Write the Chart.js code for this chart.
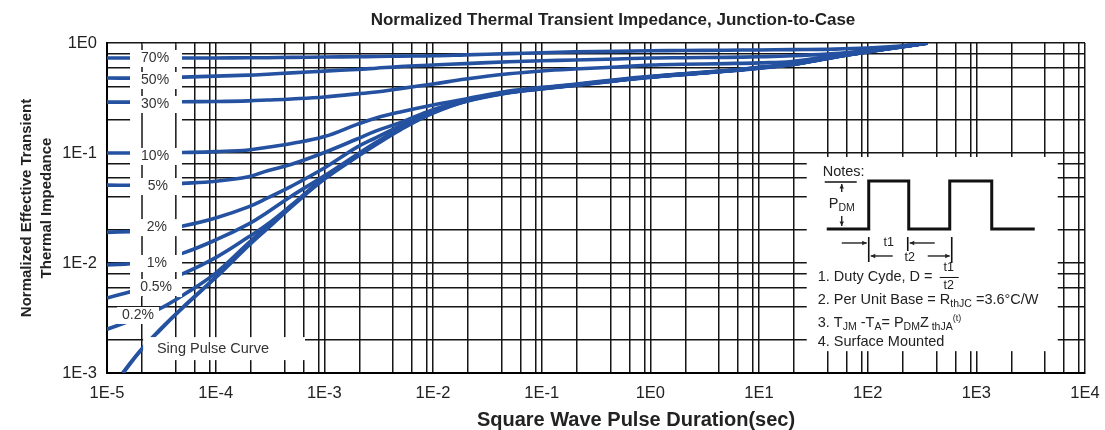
<!DOCTYPE html>
<html>
<head>
<meta charset="utf-8">
<title>Normalized Thermal Transient Impedance</title>
<script src="https://cdn.jsdelivr.net/npm/chart.js@4.4.1/dist/chart.umd.min.js"></script>
<style>
  html, body { margin: 0; padding: 0; background: #fff; }
</style>
</head>
<body>
<canvas id="zth" width="1105" height="430"></canvas>
<script>
    // pulse duration (sec) where the duty-cycle curves were read
    const tDuty = [1e-5, 2e-5, 3e-5, 5e-5, 1e-4, 2e-4, 3e-4, 5e-4, 1e-3, 2e-3, 3e-3, 5e-3, 1e-2, 2e-2, 5e-2, 0.1, 0.2, 0.5, 1, 2, 5, 10, 20, 50, 100, 200, 355];

    const z70 = [0.73, 0.73, 0.73, 0.73, 0.73, 0.735, 0.735, 0.74, 0.745, 0.75, 0.755, 0.76, 0.765, 0.78, 0.80, 0.815, 0.83, 0.84, 0.85, 0.855, 0.86, 0.865, 0.87, 0.88, 0.90, 0.94, 1.0];
    const z50 = [0.48, 0.48, 0.485, 0.49, 0.50, 0.51, 0.52, 0.535, 0.555, 0.575, 0.59, 0.61, 0.63, 0.65, 0.675, 0.69, 0.70, 0.715, 0.73, 0.735, 0.74, 0.75, 0.765, 0.80, 0.86, 0.93, 1.0];
    const z30 = [0.29, 0.29, 0.29, 0.292, 0.294, 0.298, 0.303, 0.31, 0.323, 0.345, 0.358, 0.385, 0.424, 0.47, 0.525, 0.557, 0.58, 0.605, 0.63, 0.64, 0.65, 0.66, 0.68, 0.77, 0.845, 0.925, 1.0];
    const z10 = [0.1, 0.1, 0.1, 0.101, 0.103, 0.1065, 0.113, 0.122, 0.141, 0.182, 0.208, 0.236, 0.273, 0.31, 0.365, 0.395, 0.422, 0.465, 0.497, 0.525, 0.563, 0.6, 0.643, 0.752, 0.838, 0.925, 1.0];
    const z5 = [0.051, 0.051, 0.052, 0.053, 0.0553, 0.0608, 0.069, 0.079, 0.101, 0.134, 0.159, 0.189, 0.248, 0.303, 0.36, 0.39, 0.418, 0.461, 0.494, 0.522, 0.56, 0.598, 0.641, 0.75, 0.836, 0.923, 1.0];
    const z2 = [0.019, 0.0195, 0.020, 0.0217, 0.0257, 0.0324, 0.039, 0.05, 0.073, 0.113, 0.138, 0.176, 0.24, 0.3, 0.358, 0.388, 0.416, 0.459, 0.492, 0.52, 0.558, 0.596, 0.639, 0.749, 0.835, 0.922, 1.0];
    const z1 = [0.0096, 0.0100, 0.0108, 0.0123, 0.0162, 0.0226, 0.029, 0.0407, 0.062, 0.097, 0.125, 0.168, 0.236, 0.298, 0.356, 0.386, 0.414, 0.458, 0.491, 0.519, 0.557, 0.595, 0.638, 0.748, 0.834, 0.921, 1.0];
    const z05 = [0.0048, 0.0058, 0.0066, 0.0080, 0.0112, 0.0172, 0.0225, 0.0337, 0.06, 0.095, 0.123, 0.166, 0.234, 0.297, 0.355, 0.385, 0.413, 0.457, 0.49, 0.518, 0.556, 0.594, 0.637, 0.747, 0.833, 0.92, 1.0];
    const z02 = [0.0025, 0.0032, 0.0038, 0.0051, 0.0081, 0.0152, 0.0215, 0.0332, 0.059, 0.094, 0.122, 0.165, 0.233, 0.296, 0.355, 0.384, 0.413, 0.457, 0.49, 0.518, 0.556, 0.594, 0.637, 0.747, 0.833, 0.92, 1.0];

    // single pulse curve starts where it enters the 1E-3 floor
    const tSingle = [1.4e-5, 2e-5, 3e-5, 5e-5, 1e-4, 2e-4, 3e-4, 5e-4, 1e-3, 2e-3, 3e-3, 5e-3, 1e-2, 2e-2, 5e-2, 0.1, 0.2, 0.5, 1, 2, 5, 10, 20, 50, 100, 200, 355];
    const zSingle = [0.001, 0.00157, 0.00241, 0.00395, 0.0074, 0.0144, 0.0207, 0.0327, 0.058, 0.0927, 0.12, 0.163, 0.231, 0.295, 0.354, 0.383, 0.412, 0.456, 0.489, 0.517, 0.555, 0.593, 0.636, 0.746, 0.832, 0.92, 1.0];

    // duty labels and where they sit (t, Z)
    const dutyNames = ['70%', '50%', '30%', '10%', '5%', '2%', '1%', '0.5%', '0.2%'];
    const labelT = [2.77e-5, 2.77e-5, 2.77e-5, 2.77e-5, 2.94e-5, 2.88e-5, 2.88e-5, 2.83e-5, 1.93e-5];
    const labelZ = [0.731, 0.461, 0.279, 0.094, 0.0501, 0.0212, 0.01, 0.00605, 0.00337];

    // grid: decades plus the in-between lines printed on the sheet
    const xDecades = [-5, -4, -3, -2, -1, 0, 1, 2, 3, 4];
    const xMinor = [2.1, 4.3, 6.4, 8.8];
    const yDecades = [-3, -2, -1, 0];
    const yMinor = [2, 4, 6, 8];

    const FONT = "'Liberation Sans', Arial, Helvetica, sans-serif";
    const BLUE = '#2451a0';
    const GRID = '#151515';
    const TEXT = '#222';

    function buildGrid(decades, minor) {
        const out = [];
        decades.forEach((d, i) => {
            const base = Math.pow(10, d);
            out.push(base);
            if (i < decades.length - 1) minor.forEach(m => out.push(m * base));
        });
        return out;
    }
    const xGrid = buildGrid(xDecades, xMinor);
    const yGrid = buildGrid(yDecades, yMinor);

    function decadeLabel(v) {
        const e = Math.log10(v);
        return Math.abs(e - Math.round(e)) < 1e-6 ? '1E' + Math.round(e) : '';
    }

    function curve(label, t, z, w) {
        return {
            label: label,
            data: t.map((v, i) => ({ x: v, y: z[i] })),
            borderColor: BLUE,
            borderWidth: w || 3.6,
            pointRadius: 0,
            fill: false,
            tension: 0.4
        };
    }

    function arrow(c, x1, y1, x2, y2) {
        c.beginPath(); c.moveTo(x1, y1); c.lineTo(x2, y2); c.stroke();
        const a = Math.atan2(y2 - y1, x2 - x1), h = 5;
        c.beginPath();
        c.moveTo(x2, y2);
        c.lineTo(x2 - h * Math.cos(a - 0.45), y2 - h * Math.sin(a - 0.45));
        c.lineTo(x2 - h * Math.cos(a + 0.45), y2 - h * Math.sin(a + 0.45));
        c.closePath(); c.fill();
    }

    // text runs with sub/superscripts: [text, size, dy]
    function runs(c, x, y, parts) {
        c.textAlign = 'left';
        parts.forEach(p => {
            c.font = p[1] + 'px ' + FONT;
            c.fillText(p[0], x, y + p[2]);
            x += c.measureText(p[0]).width;
        });
    }

    function drawNotes(c, bx, by) {
        c.fillStyle = TEXT; c.strokeStyle = '#111';
        c.textBaseline = 'middle';
        runs(c, bx + 16, by + 15, [['Notes:', 14.5, 0]]);

        // pulse train
        c.lineWidth = 3; c.lineJoin = 'miter';
        const lo = by + 72, hi = by + 24;
        const ex = [20, 62, 102, 143, 185, 228].map(v => bx + v);
        c.beginPath();
        c.moveTo(ex[0], lo); c.lineTo(ex[1], lo); c.lineTo(ex[1], hi); c.lineTo(ex[2], hi);
        c.lineTo(ex[2], lo); c.lineTo(ex[3], lo); c.lineTo(ex[3], hi); c.lineTo(ex[4], hi);
        c.lineTo(ex[4], lo); c.lineTo(ex[5], lo);
        c.stroke();

        // P_DM marker
        c.lineWidth = 1.3;
        c.beginPath(); c.moveTo(bx + 18, hi + 1); c.lineTo(bx + 50, hi + 1); c.stroke();
        arrow(c, bx + 35, by + 35, bx + 35, by + 27);
        arrow(c, bx + 35, by + 59, bx + 35, by + 69);
        runs(c, bx + 22, by + 47, [['P', 14.5, 0], ['DM', 10.5, 4]]);

        // t1 / t2 dimensions
        c.lineWidth = 1.6;
        [[62, 80, 105], [101, 80, 94], [145, 80, 106]].forEach(b => {
            c.beginPath(); c.moveTo(bx + b[0], by + b[1]); c.lineTo(bx + b[0], by + b[2]); c.stroke();
        });
        c.lineWidth = 1.3;
        arrow(c, bx + 35, by + 86, bx + 60, by + 86);
        arrow(c, bx + 128, by + 86, bx + 103, by + 86);
        arrow(c, bx + 86, by + 99, bx + 64, by + 99);
        arrow(c, bx + 121, by + 99, bx + 143, by + 99);
        c.font = '12.5px ' + FONT; c.textAlign = 'center';
        c.fillText('t1', bx + 82, by + 86);
        c.fillText('t2', bx + 103, by + 101);

        // numbered notes
        runs(c, bx + 11, by + 120, [['1. Duty Cyde, D = ', 14.5, 0]]);
        c.font = '12.5px ' + FONT; c.textAlign = 'center';
        c.fillText('t1', bx + 142, by + 111);
        c.fillText('t2', bx + 142, by + 129);
        c.lineWidth = 1;
        c.beginPath(); c.moveTo(bx + 133, by + 120.5); c.lineTo(bx + 152, by + 120.5); c.stroke();
        runs(c, bx + 11, by + 143, [['2. Per Unit Base = R', 14.5, 0], ['thJC', 10.5, 4], [' =3.6°C/W', 14.5, 0]]);
        runs(c, bx + 11, by + 166, [['3. T', 14.5, 0], ['JM', 10.5, 4], [' -T', 14.5, 0], ['A', 10.5, 4], ['= P', 14.5, 0], ['DM', 10.5, 4], ['Z', 14.5, 0], [' thJA', 10.5, 4], ['(t)', 9, -4]]);
        runs(c, bx + 11, by + 185, [['4. Surface Mounted', 14.5, 0]]);
    }

    // boxes on the sheet, in axis units
    const labelCol = [1.63e-5, 4.9e-5, 0.0049];
    const singleBox = [2.15e-5, 6.64e-4, 2.12e-3, 1.31e-3];
    const singleText = [2.88e-5, 1.65e-3];
    const notesBox = [27.5, 5610, 0.092, 0.00158];

    const decor = {
        id: 'decor',
        beforeDraw(chart) {
            const c = chart.ctx;
            c.save(); c.fillStyle = '#fff'; c.fillRect(0, 0, chart.width, chart.height); c.restore();
        },
        afterDatasetsDraw(chart) {
            const c = chart.ctx, xs = chart.scales.x, ys = chart.scales.y, area = chart.chartArea;
            const px = v => xs.getPixelForValue(v), py = v => ys.getPixelForValue(v);
            c.save();

            // white label column, with the two grid lines showing between labels
            const x0 = px(labelCol[0]), x1 = px(labelCol[1]), y0 = area.top + 1.5, y1 = py(labelCol[2]);
            c.fillStyle = '#fff';
            c.fillRect(x0, y0, x1 - x0, y1 - y0);
            c.strokeStyle = GRID; c.lineWidth = 1.5;
            xGrid.forEach(v => {
                const x = px(v);
                if (x > x0 && x < x1) { c.beginPath(); c.moveTo(x, y0); c.lineTo(x, y1); c.stroke(); }
            });
            c.font = '14px ' + FONT; c.textAlign = 'center'; c.textBaseline = 'middle';
            dutyNames.forEach((name, i) => {
                const cx = px(labelT[i]), cy = py(labelZ[i]), w = c.measureText(name).width;
                let l = cx - w / 2 - 5, r = cx + w / 2 + 5;
                if (cx - w / 2 > x0) { l = x0; r = x1; }
                c.fillStyle = '#fff'; c.fillRect(l, cy - 8, r - l, 17);
                c.fillStyle = '#333'; c.fillText(name, cx, cy + 0.5);
            });

            // single pulse caption
            const sx0 = px(singleBox[0]), sx1 = px(singleBox[1]), sy0 = py(singleBox[2]), sy1 = py(singleBox[3]);
            c.fillStyle = '#fff'; c.fillRect(sx0, sy0, sx1 - sx0, sy1 - sy0);
            c.fillStyle = '#333'; c.textAlign = 'left'; c.font = '14.5px ' + FONT;
            c.fillText('Sing Pulse Curve', px(singleText[0]), py(singleText[1]));

            // notes panel
            const nx0 = px(notesBox[0]), nx1 = px(notesBox[1]), ny0 = py(notesBox[2]), ny1 = py(notesBox[3]);
            c.fillStyle = '#fff'; c.fillRect(nx0, ny0, nx1 - nx0, ny1 - ny0);
            drawNotes(c, nx0, ny0);
            c.restore();
        },
        afterDraw(chart) {
            const c = chart.ctx;
            c.save();
            c.fillStyle = TEXT; c.textAlign = 'center'; c.textBaseline = 'middle';
            c.font = 'bold 17px ' + FONT;
            c.fillText('Normalized Thermal Transient Impedance, Junction-to-Case', 613, 20);
            c.font = 'bold 20px ' + FONT;
            c.fillText('Square Wave Pulse Duration(sec)', 636, 420);
            c.restore();
        }
    };

    Chart.defaults.font.family = FONT;

    const datasets = [
        curve('70%', tDuty, z70), curve('50%', tDuty, z50), curve('30%', tDuty, z30),
        curve('10%', tDuty, z10), curve('5%', tDuty, z5), curve('2%', tDuty, z2),
        curve('1%', tDuty, z1), curve('0.5%', tDuty, z05), curve('0.2%', tDuty, z02),
        curve('Single Pulse', tSingle, zSingle, 4)
    ];

    new Chart(document.getElementById('zth'), {
        type: 'line',
        data: { datasets: datasets },
        plugins: [decor],
        options: {
            responsive: false,
            animation: false,
            devicePixelRatio: 1,
            layout: { padding: { top: 43, right: 20, left: 0, bottom: 0 } },
            plugins: { legend: { display: false }, tooltip: { enabled: false } },
            scales: {
                x: {
                    type: 'logarithmic', min: 1e-5, max: 1e4,
                    afterBuildTicks: s => { s.ticks = xGrid.map(v => ({ value: v })); },
                    afterFit: s => { s.height = 57; s.paddingLeft = 0; s.paddingRight = 0; },
                    ticks: { autoSkip: false, maxRotation: 0, padding: 11, color: TEXT, font: { size: 16.5 }, callback: v => decadeLabel(v) },
                    grid: { color: GRID, lineWidth: 1.5, drawTicks: false },
                    border: { color: '#000', width: 2 }
                },
                y: {
                    type: 'logarithmic', min: 1e-3, max: 1,
                    afterBuildTicks: s => { s.ticks = yGrid.map(v => ({ value: v })); },
                    afterFit: s => { s.width = 107; s.paddingTop = 0; s.paddingBottom = 0; },
                    ticks: { autoSkip: false, padding: 10, color: TEXT, font: { size: 16.5 }, callback: v => decadeLabel(v) },
                    grid: { color: GRID, lineWidth: 1.5, drawTicks: false },
                    border: { color: '#000', width: 2 },
                    title: {
                        display: true,
                        text: ['Normalized Effective Transient', 'Thermal Impedance'],
                        color: TEXT,
                        font: { size: 15, weight: 'bold', lineHeight: 1.333 },
                        padding: { top: 17, bottom: 0 }
                    }
                }
            }
        }
    });
</script>
</body>
</html>
